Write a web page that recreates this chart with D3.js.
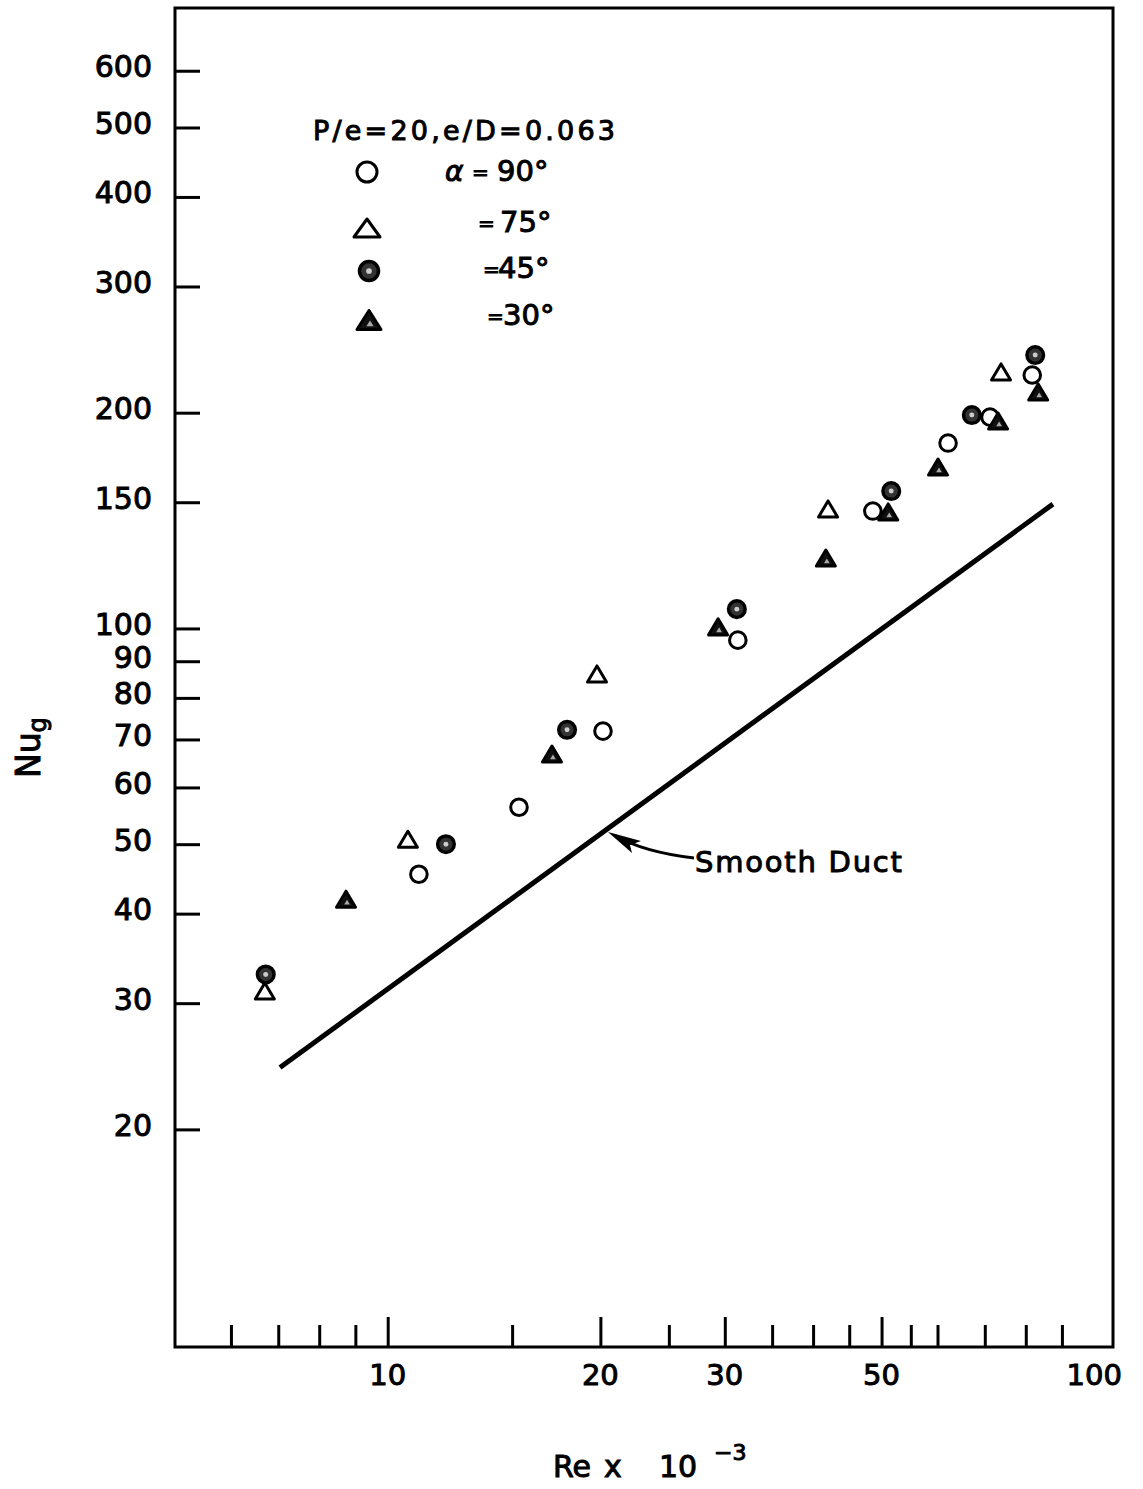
<!DOCTYPE html>
<html>
<head>
<meta charset="utf-8">
<script src="https://cdn.jsdelivr.net/npm/d3@7"></script>
<style>
body { margin: 0; background: #fff; }
text { font-family: "DejaVu Sans", sans-serif; fill: #000; stroke: #000; stroke-width: 1px; }
</style>
</head>
<body>
<svg id="chart" width="1143" height="1489"></svg>
<script>
//DATA (Re x 10^-3 , Nu_g)
var re90 = [11.07, 15.34, 20.17, 31.3, 48.6, 62.1, 71.2, 81.7];
var nu90 = [45.4, 56.3, 71.9, 96.3, 145.8, 181.4, 197.2, 225.7];

var re75 = [6.70, 10.68, 19.78, 42.0, 73.8];
var nu75 = [31.2, 50.8, 86.4, 146.8, 228.0];

var re45 = [6.72, 12.09, 17.94, 31.2, 51.6, 67.1, 82.5];
var nu45 = [32.9, 50.0, 72.2, 106.4, 155.5, 198.5, 240.7];

var re30 = [8.73, 17.08, 29.35, 41.7, 51.1, 60.1, 73.1, 83.3];
var nu30 = [41.9, 66.8, 100.5, 125.4, 145.4, 168.0, 194.7, 213.7];

var smoothRe = [7.04, 87.4];
var smoothNu = [24.4, 149.1];

var xTicks = [6, 7, 8, 9, 10, 15, 20, 25, 30, 35, 40, 45, 50, 55, 60, 70, 80, 90];
var xMajor = [10, 20, 30, 50];
var xLabels = [10, 20, 30, 50, 100];
var yTicks = [20, 30, 40, 50, 60, 70, 80, 90, 100, 150, 200, 300, 400, 500, 600];

var legendTitle = "P/e=20,e/D=0.063";
var legendAngles = ["90°", "75°", "45°", "30°"];

/*---------------------------------------SCALES--------------------------------------*/
var frame = { left: 175, right: 1113, top: 8, bottom: 1347 };

var x = d3.scaleLog().domain([5, 106.3]).range([frame.left, frame.right]);
var y = d3.scaleLog().domain([9.94, 734]).range([frame.bottom, frame.top]);

var svg = d3.select("#chart");

svg.append("rect")
    .attr("width", 1143)
    .attr("height", 1489)
    .attr("fill", "#fff");

//frame
svg.append("rect")
    .attr("x", frame.left)
    .attr("y", frame.top)
    .attr("width", frame.right - frame.left)
    .attr("height", frame.bottom - frame.top)
    .attr("fill", "none")
    .attr("stroke", "#000")
    .attr("stroke-width", 3);

/*---------------------------------------AXES--------------------------------------*/
var yAxis = svg.append("g")
    .attr("transform", "translate(" + frame.left + ",0)")
    .call(d3.axisLeft(y)
        .tickValues(yTicks)
        .tickSizeInner(-25)
        .tickSizeOuter(0)
        .tickPadding(23)
        .tickFormat(d3.format("d")));
yAxis.select(".domain").remove();
yAxis.selectAll(".tick line").attr("stroke-width", 3);
yAxis.selectAll(".tick text")
    .attr("dy", 6)
    .style("font-size", "30px");

var xAxis = svg.append("g")
    .attr("transform", "translate(0," + frame.bottom + ")")
    .call(d3.axisBottom(x)
        .tickValues(xTicks)
        .tickSizeInner(-22)
        .tickSizeOuter(0)
        .tickFormat(""));
xAxis.select(".domain").remove();
xAxis.selectAll(".tick line")
    .attr("stroke-width", 3)
    .attr("y2", function(d) {
        return xMajor.indexOf(d) >= 0 ? -30 : -22;
    });

svg.append("g").selectAll("text")
    .data(xLabels)
    .enter()
    .append("text")
    .attr("x", function(d) { return x(d); })
    .attr("y", frame.bottom + 38)
    .attr("text-anchor", "middle")
    .style("font-size", "29px")
    .text(function(d) { return d; });

//axis titles
var xTitle = svg.append("text")
    .attr("y", 1477)
    .style("font-size", "30px");
xTitle.append("tspan").attr("x", 553).text("Re");
xTitle.append("tspan").attr("x", 604).text("x");
xTitle.append("tspan").attr("x", 659).text("10");
xTitle.append("tspan").attr("x", 714).attr("y", 1460).style("font-size", "22px").text("\u22123");

var yTitle = svg.append("text")
    .attr("transform", "translate(40,778) rotate(-90)")
    .style("font-size", "33px");
yTitle.append("tspan").text("Nu");
yTitle.append("tspan").attr("dy", 6).style("font-size", "24px").text("g");

/*---------------------------------------MARKS--------------------------------------*/
function triPath(w, h) {
    return "M0," + (-h / 2) + "L" + (w / 2) + "," + (h / 2) + "L" + (-w / 2) + "," + (h / 2) + "Z";
}

function drawOpenCircle(g, r) {
    g.append("circle").attr("r", r)
        .attr("fill", "#fff").attr("stroke", "#000").attr("stroke-width", 3);
}

function drawOpenTri(g, w, h) {
    g.append("path").attr("d", triPath(w, h))
        .attr("fill", "#fff").attr("stroke", "#000").attr("stroke-width", 3)
        .attr("stroke-linejoin", "round");
}

function drawDotCircle(g, r) {
    g.append("circle").attr("r", r)
        .attr("fill", "#333").attr("stroke", "#000").attr("stroke-width", 3.5);
    g.append("circle").attr("r", r * 0.3).attr("fill", "#ccc");
}

function drawSolidTri(g, w, h) {
    g.append("path").attr("d", triPath(w, h))
        .attr("fill", "#111").attr("stroke", "#000").attr("stroke-width", 3)
        .attr("stroke-linejoin", "round");
    g.append("path").attr("d", triPath(w * 0.3, h * 0.3))
        .attr("transform", "translate(1," + (h * 0.18) + ")")
        .attr("fill", "#aaa");
}

function drawSeries(reArr, nuArr, drawer) {
    svg.append("g").selectAll("g")
        .data(d3.zip(reArr, nuArr))
        .enter()
        .append("g")
        .attr("transform", function(d) {
            return "translate(" + x(d[0]) + "," + y(d[1]) + ")";
        })
        .each(function() { drawer(d3.select(this)); });
}

//smooth duct line
svg.append("path")
    .datum(d3.zip(smoothRe, smoothNu))
    .attr("fill", "none")
    .attr("stroke", "#000")
    .attr("stroke-width", 5)
    .attr("d", d3.line()
        .x(function(d) { return x(d[0]); })
        .y(function(d) { return y(d[1]); }));

drawSeries(re75, nu75, function(g) { drawOpenTri(g, 19, 16); });
drawSeries(re90, nu90, function(g) { drawOpenCircle(g, 8.3); });
drawSeries(re30, nu30, function(g) { drawSolidTri(g, 19, 16); });
drawSeries(re45, nu45, function(g) { drawDotCircle(g, 8.3); });

//annotation
var tx = x(20.5), ty = y(52.0);
svg.append("path")
    .attr("d", "M" + (tx + 86) + "," + (ty + 26) + "Q" + (tx + 35) + "," + (ty + 20) + " " + (tx + 6) + "," + (ty + 3))
    .attr("fill", "none")
    .attr("stroke", "#000")
    .attr("stroke-width", 3);
svg.append("path")
    .attr("d", "M" + tx + "," + ty + "L" + (tx + 33) + "," + (ty + 9) + "L" + (tx + 22) + "," + (ty + 13) + "L" + (tx + 24) + "," + (ty + 21) + "Z")
    .attr("fill", "#000");
svg.append("text")
    .attr("x", tx + 87)
    .attr("y", ty + 40)
    .attr("textLength", 207)
    .style("font-size", "29px")
    .text("Smooth Duct");

/*---------------------------------------LEGEND--------------------------------------*/
svg.append("text")
    .attr("x", 313)
    .attr("y", 140)
    .attr("textLength", 302)
    .style("font-size", "27px")
    .text(legendTitle);

var legendMarkY = [172, 228, 271, 320];
var legendTextY = [181, 232, 278, 325];
var legendEqX = [472, 478, 483, 487];
var legendValX = [497, 500, 498, 503];

var lm = svg.append("g").attr("transform", "translate(367," + legendMarkY[0] + ")");
drawOpenCircle(lm, 10);
lm = svg.append("g").attr("transform", "translate(367," + legendMarkY[1] + ")");
drawOpenTri(lm, 26, 18);
lm = svg.append("g").attr("transform", "translate(369," + legendMarkY[2] + ")");
drawDotCircle(lm, 9.5);
lm = svg.append("g").attr("transform", "translate(369," + legendMarkY[3] + ")");
drawSolidTri(lm, 24, 19);

svg.append("text")
    .attr("x", 445)
    .attr("y", legendTextY[0])
    .style("font-size", "28px")
    .style("font-style", "italic")
    .text("\u03b1");

legendAngles.forEach(function(a, i) {
    svg.append("text")
        .attr("x", legendEqX[i])
        .attr("y", legendTextY[i] - 2)
        .style("font-size", "20px")
        .text("=");
    svg.append("text")
        .attr("x", legendValX[i])
        .attr("y", legendTextY[i])
        .style("font-size", "29px")
        .text(a);
});
</script>
</body>
</html>
